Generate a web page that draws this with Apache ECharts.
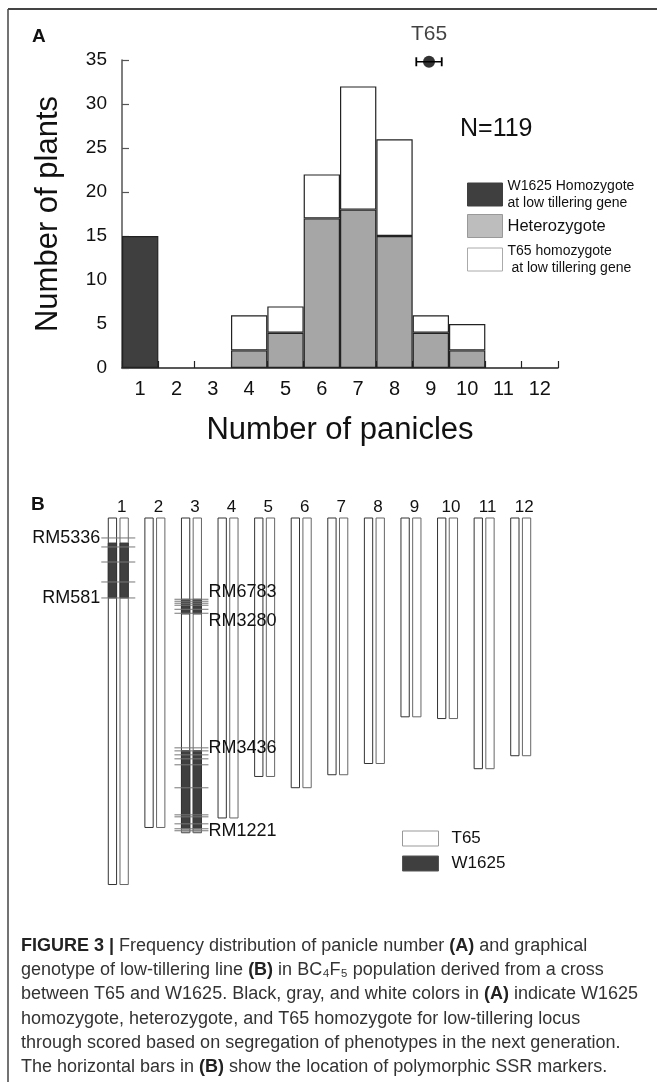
<!DOCTYPE html>
<html>
<head>
<meta charset="utf-8">
<title>Figure 3</title>
<script src="https://cdn.jsdelivr.net/npm/echarts@6/dist/echarts.min.js"></script>
<style>
  html, body { margin: 0; padding: 0; background: #fff; }
  #chart { width: 657px; height: 1082px; }
</style>
</head>
<body>
<div id="chart"></div>
<script>
// ---- panel A: panicle number distribution ----
const panicleNumbers = ['1', '2', '3', '4', '5', '6', '7', '8', '9', '10', '11', '12'];
const w1625Homozygote = [15, null, null, null, null, null, null, null, null, null, null, null];
const heterozygote = [null, null, null, 2, 4, 17, 18, 15, 4, 2, null, null];
const t65Homozygote = [null, null, null, 4, 3, 5, 14, 11, 2, 3, null, null];
const plantAxis = [0, 35, 5]; // min, max, step
const t65Mean = [8.95, 34.8];
const t65Range = [8.6, 9.3];

// ---- panel B: graphical genotype (Mb) ----
const chromosomeNames = ['1', '2', '3', '4', '5', '6', '7', '8', '9', '10', '11', '12'];
const chromosomeLengths = [42.4, 35.8, 36.4, 34.7, 29.9, 31.2, 29.7, 28.4, 23.0, 23.2, 29.0, 27.5];
const w1625Segments = [[0, 2.9, 9.25], [2, 9.4, 11.1], [2, 26.9, 35.95]];
const unscoredSegments = [[2, 35.95, 36.4]];
const markerPositions = [
  [0, 2.31], [0, 3.35], [0, 5.09], [0, 7.4], [0, 9.25],
  [2, 9.40], [2, 9.63], [2, 9.86], [2, 10.09], [2, 10.56], [2, 11.02],
  [2, 26.59], [2, 26.94], [2, 27.40], [2, 27.86], [2, 28.55], [2, 31.21],
  [2, 34.34], [2, 34.57], [2, 35.38], [2, 35.95], [2, 36.18]
];
const markerNames = [
  [0, 2.31, 'RM5336'], [0, 9.25, 'RM581'],
  [2, 9.40, 'RM6783'], [2, 11.02, 'RM3280'],
  [2, 26.59, 'RM3436'], [2, 36.18, 'RM1221']
];

const totalPlants = [w1625Homozygote, heterozygote, t65Homozygote]
  .reduce((s, arr) => s + arr.reduce((a, v) => a + (v || 0), 0), 0);

const FONT = 'Liberation Sans, Arial, sans-serif';
const labelNudge = { RM6783: -7, RM3280: 8 };

const chart = echarts.init(document.getElementById('chart'));

const legendText = {
  'W1625 Homozygote': 'W1625 Homozygote\nat low tillering gene',
  'Heterozygote': 'Heterozygote',
  'T65 homozygote': 'T65 homozygote\n at low tillering gene'
};

function legendA(name, top, fill, stroke, size) {
  return {
    data: [{ name: name, itemStyle: { color: fill, borderColor: stroke, borderWidth: 1 } }],
    left: 467, top: top, padding: 0,
    itemWidth: 35, itemHeight: 23, icon: 'rect',
    selectedMode: false,
    formatter: n => legendText[n],
    textStyle: { fontFamily: FONT, fontSize: size, lineHeight: 17, color: '#111' }
  };
}

const caption = [
  '{b|FIGURE 3 |} Frequency distribution of panicle number {b|(A)} and graphical',
  'genotype of low-tillering line {b|(B)} in BC₄F₅ population derived from a cross',
  'between T65 and W1625. Black, gray, and white colors in {b|(A)} indicate W1625',
  'homozygote, heterozygote, and T65 homozygote for low-tillering locus',
  'through scored based on segregation of phenotypes in the next generation.',
  'The horizontal bars in {b|(B)} show the location of polymorphic SSR markers.'
];

const option = {
  animation: false,
  grid: [
    { left: 122, top: 60, width: 436, height: 308 },
    { left: 100, top: 518, width: 439, height: 389 }
  ],
  xAxis: [
    {
      type: 'category', gridIndex: 0, data: panicleNumbers,
      name: 'Number of panicles', nameLocation: 'middle', nameGap: 47,
      nameTextStyle: { fontFamily: FONT, fontSize: 31, color: '#111' },
      axisLine: { lineStyle: { color: '#222', width: 1.5 } },
      axisTick: { show: true, inside: true, length: 7, alignWithLabel: false, lineStyle: { color: '#222', width: 1.2 } },
      axisLabel: { fontFamily: FONT, fontSize: 20, color: '#111', margin: 11 }
    },
    { type: 'value', gridIndex: 0, min: 0.5, max: 12.5, show: false },
    {
      type: 'category', gridIndex: 1, data: chromosomeNames, position: 'top',
      axisLine: { show: false }, axisTick: { show: false },
      axisLabel: { fontFamily: FONT, fontSize: 17, color: '#111', margin: 2, padding: [0, 0, 0, 7] }
    }
  ],
  yAxis: [
    {
      type: 'value', gridIndex: 0, min: plantAxis[0], max: plantAxis[1], interval: plantAxis[2],
      name: 'Number of plants', nameLocation: 'middle', nameGap: 58,
      nameTextStyle: { fontFamily: FONT, fontSize: 31, color: '#111' },
      axisLine: { show: true, lineStyle: { color: '#555', width: 1.5 } },
      axisTick: { show: true, inside: true, length: 7, lineStyle: { color: '#555', width: 1.2 } },
      axisLabel: { fontFamily: FONT, fontSize: 19, color: '#111', margin: 15 },
      splitLine: { show: false }
    },
    { type: 'value', gridIndex: 1, min: 0, max: 45, inverse: true, show: false }
  ],
  legend: [
    legendA('W1625 Homozygote', 177.5, '#3f3f3f', '#3f3f3f', 14),
    legendA('Heterozygote', 214, '#bdbdbd', '#999', 16.5),
    legendA('T65 homozygote', 242.5, '#fff', '#aaa', 14),
    {
      data: [
        { name: 'T65', itemStyle: { color: '#fff', borderColor: '#999', borderWidth: 1 } },
        { name: 'W1625', itemStyle: { color: '#3f3f3f', borderColor: '#555', borderWidth: 1 } }
      ],
      orient: 'vertical', left: 402, top: 830, padding: 0,
      itemWidth: 36, itemHeight: 15, itemGap: 8, icon: 'rect', selectedMode: false,
      textStyle: { fontFamily: FONT, fontSize: 17, lineHeight: 17, color: '#111', padding: [0, 0, 0, 8] }
    }
  ],
  series: [
    {
      name: 'W1625 Homozygote', type: 'bar', stack: 'plants', barWidth: '100%',
      xAxisIndex: 0, yAxisIndex: 0, data: w1625Homozygote,
      itemStyle: { color: '#3f3f3f', borderColor: '#222', borderWidth: 1.2 }
    },
    {
      name: 'Heterozygote', type: 'bar', stack: 'plants', barWidth: '100%',
      xAxisIndex: 0, yAxisIndex: 0, data: heterozygote,
      itemStyle: { color: '#a6a6a6', borderColor: '#222', borderWidth: 1.2 }
    },
    {
      name: 'T65 homozygote', type: 'bar', stack: 'plants', barWidth: '100%',
      xAxisIndex: 0, yAxisIndex: 0, data: t65Homozygote,
      itemStyle: { color: '#fff', borderColor: '#222', borderWidth: 1.2 }
    },
    {
      name: 'T65 range', type: 'line', xAxisIndex: 1, yAxisIndex: 0,
      data: [[t65Range[0], t65Mean[1]], [t65Range[1], t65Mean[1]]],
      symbol: 'rect', symbolSize: [1.8, 9], showSymbol: true,
      lineStyle: { color: '#000', width: 1.5 }, itemStyle: { color: '#000' }
    },
    {
      name: 'T65 mean', type: 'scatter', xAxisIndex: 1, yAxisIndex: 0,
      data: [t65Mean], symbolSize: 12, itemStyle: { color: '#000' },
      label: {
        show: true, position: 'top', distance: 11, formatter: 'T65',
        fontFamily: FONT, fontSize: 21, color: '#111'
      }
    },
    {
      name: 'T65', type: 'custom', xAxisIndex: 2, yAxisIndex: 1,
      data: chromosomeLengths.map((len, i) => [i, len]),
      renderItem: (params, api) => {
        const top = api.coord([api.value(0), 0]);
        const bottom = api.coord([api.value(0), api.value(1)]);
        const h = bottom[1] - top[1];
        const x = top[0];
        return {
          type: 'group', children: [
            { type: 'rect', shape: { x: x - 10, y: top[1], width: 8.3, height: h },
              style: { fill: '#fff', stroke: '#333', lineWidth: 1 } },
            { type: 'rect', shape: { x: x + 1.7, y: top[1], width: 8.3, height: h },
              style: { fill: '#fff', stroke: '#666', lineWidth: 1 } }
          ]
        };
      }
    },
    {
      name: 'W1625', type: 'custom', xAxisIndex: 2, yAxisIndex: 1,
      encode: { x: 0, y: [1, 2] },
      data: w1625Segments,
      renderItem: (params, api) => {
        const a = api.coord([api.value(0), api.value(1)]);
        const b = api.coord([api.value(0), api.value(2)]);
        const x = a[0];
        const st = { fill: '#3f3f3f', stroke: '#333', lineWidth: 1 };
        return {
          type: 'group', children: [
            { type: 'rect', shape: { x: x - 10, y: a[1], width: 8.3, height: b[1] - a[1] }, style: st },
            { type: 'rect', shape: { x: x + 1.7, y: a[1], width: 8.3, height: b[1] - a[1] }, style: st }
          ]
        };
      }
    },
    {
      name: 'Unscored', type: 'custom', xAxisIndex: 2, yAxisIndex: 1,
      encode: { x: 0, y: [1, 2] },
      data: unscoredSegments,
      renderItem: (params, api) => {
        const a = api.coord([api.value(0), api.value(1)]);
        const b = api.coord([api.value(0), api.value(2)]);
        const x = a[0];
        const st = { fill: '#bbb', stroke: '#666', lineWidth: 1 };
        return {
          type: 'group', children: [
            { type: 'rect', shape: { x: x - 10, y: a[1], width: 8.3, height: b[1] - a[1] }, style: st },
            { type: 'rect', shape: { x: x + 1.7, y: a[1], width: 8.3, height: b[1] - a[1] }, style: st }
          ]
        };
      }
    },
    {
      name: 'SSR markers', type: 'custom', xAxisIndex: 2, yAxisIndex: 1,
      data: markerPositions,
      renderItem: (params, api) => {
        const p = api.coord([api.value(0), api.value(1)]);
        return {
          type: 'line',
          shape: { x1: p[0] - 17, y1: p[1], x2: p[0] + 17, y2: p[1] },
          style: { stroke: '#777', lineWidth: 1 }
        };
      }
    },
    {
      name: 'Marker names', type: 'custom', xAxisIndex: 2, yAxisIndex: 1,
      data: markerNames,
      renderItem: (params, api) => {
        const p = api.coord([api.value(0), api.value(1)]);
        const name = markerNames[params.dataIndex][2];
        const leftSide = api.value(0) === 0;
        return {
          type: 'text',
          style: {
            text: name,
            x: leftSide ? p[0] - 18 : p[0] + 17,
            y: p[1] + (labelNudge[name] || 0),
            align: leftSide ? 'right' : 'left',
            verticalAlign: 'middle',
            fontFamily: FONT, fontSize: 18, fill: '#111'
          }
        };
      }
    }
  ],
  graphic: [
    { type: 'line', shape: { x1: 8, y1: 9, x2: 657, y2: 9 }, style: { stroke: '#444', lineWidth: 2 } },
    { type: 'line', shape: { x1: 8, y1: 9, x2: 8, y2: 1082 }, style: { stroke: '#444', lineWidth: 1.5 } },
    { type: 'text', left: 32, top: 27, style: { text: 'A', fontFamily: FONT, fontSize: 19, fontWeight: 'bold', fill: '#111' } },
    { type: 'text', left: 31, top: 495, style: { text: 'B', fontFamily: FONT, fontSize: 19, fontWeight: 'bold', fill: '#111' } },
    { type: 'text', left: 460, top: 117, style: { text: 'N=' + totalPlants, fontFamily: FONT, fontSize: 25, fill: '#111' } },
    {
      type: 'text', left: 21, top: 934,
      style: {
        text: caption.join('\n'),
        fontFamily: FONT, fontSize: 18, lineHeight: 24.2, fill: '#333',
        rich: {
          b: { fontFamily: FONT, fontSize: 18, lineHeight: 24.2, fontWeight: 'bold', fill: '#222' }
        }
      }
    }
  ]
};

chart.setOption(option);
</script>
</body>
</html>
